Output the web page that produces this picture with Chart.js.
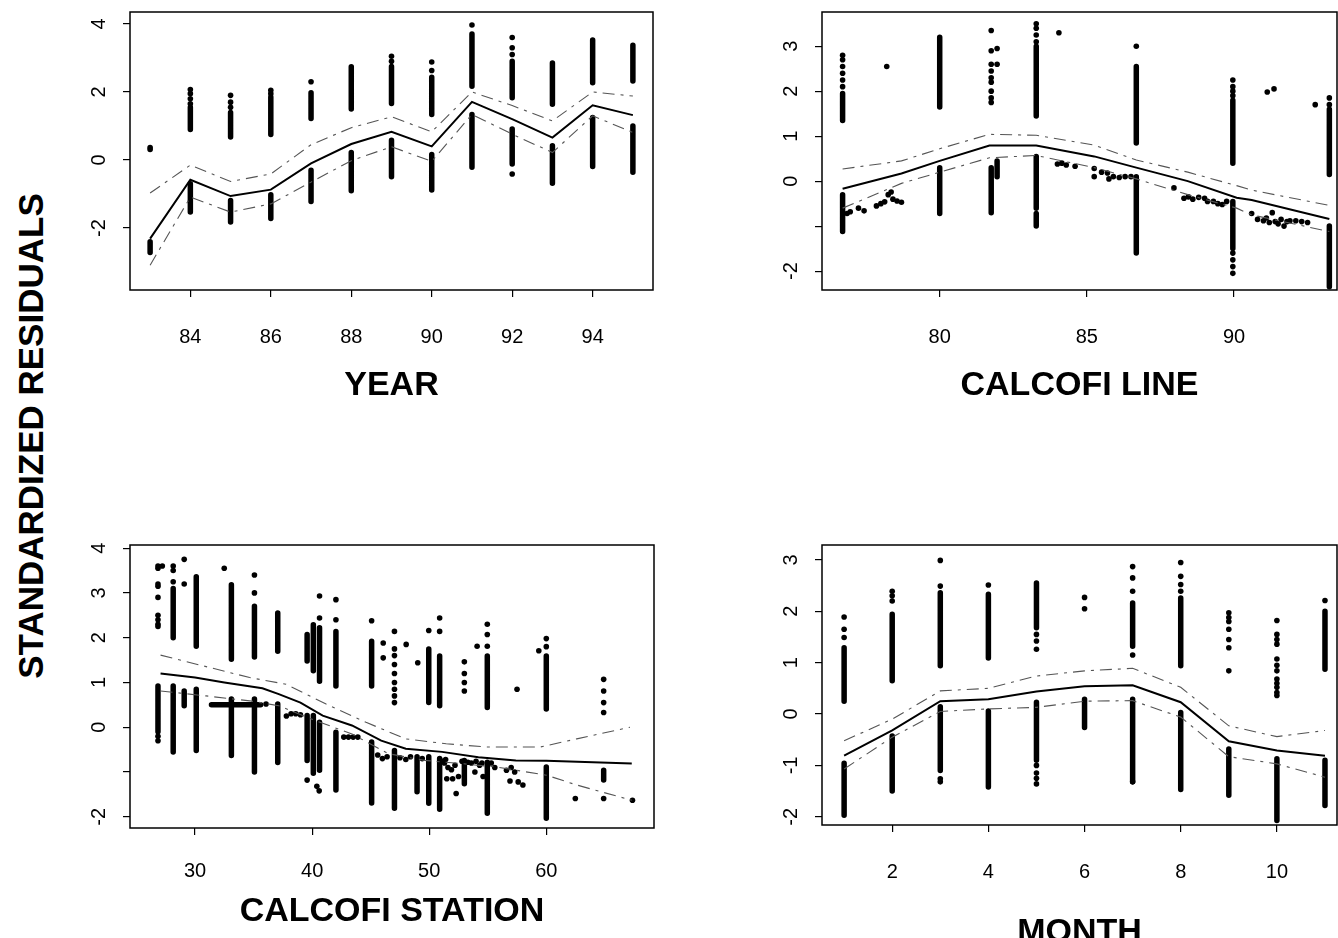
<!DOCTYPE html>
<html>
<head>
<meta charset="utf-8">
<script src="https://cdn.jsdelivr.net/npm/chart.js@4.4.1/dist/chart.umd.min.js"></script>
<style>
html, body { margin: 0; padding: 0; background: #fff; overflow: hidden; width: 1338px; height: 938px; }
canvas { position: absolute; }
#ylab {
    position: absolute; left: 31px; top: 436px;
    transform: translate(-50%, -50%) rotate(-90deg);
    font: bold 35px "Liberation Sans", Arial, sans-serif;
    white-space: nowrap; color: #000;
}
</style>
</head>
<body>
<div id="ylab">STANDARDIZED RESIDUALS</div>
<canvas id="year"></canvas>
<canvas id="line"></canvas>
<canvas id="station"></canvas>
<canvas id="month"></canvas>
<script>
// ---- YEAR panel ----
const yearTicksX = [84, 86, 88, 90, 92, 94];
const yearTicksY = [-2, 0, 2, 4];
const yearLabelsY = ['-2', '0', '2', '4'];
// [x, low, high] dense runs of points
const yearCols = [
    [83, -2.72, -2.4],
    [84, 0.9, 1.55], [84, -1.53, -0.7],
    [85, 0.68, 1.4], [85, -1.82, -1.19],
    [86, 0.75, 1.85], [86, -1.72, -1.02],
    [87, 1.22, 1.98], [87, -1.22, -0.3],
    [88, 1.5, 2.74], [88, -0.9, 0.22],
    [89, 1.66, 2.75], [89, -0.49, 0.58],
    [90, 1.34, 2.43], [90, -0.88, 0.16],
    [91, 2.17, 3.7], [91, -0.21, 1.34],
    [92, 1.83, 2.9], [92, -0.12, 0.91],
    [93, 1.64, 2.85], [93, -0.68, 0.42],
    [94, 2.27, 3.53], [94, -0.19, 1.25],
    [95, 2.32, 3.37], [95, -0.36, 1.0]
];
const yearDots = [
    [83, 0.37], [83, 0.31], [84, 1.65], [84, 1.8], [84, 1.95], [84, 2.07],
    [85, 1.55], [85, 1.7], [85, 1.9], [86, 1.95], [86, 2.05], [87, 2.3],
    [89, 2.9], [89, 3.05], [90, 2.63], [90, 2.88], [91, 3.97],
    [92, 3.1], [92, 3.3], [92, 3.6], [92, -0.41]
];
const yearFit = [[83, -2.31], [84, -0.58], [85, -1.06], [86, -0.87], [87, -0.1], [88, 0.47], [89, 0.83],
    [90, 0.4], [91, 1.71], [92, 1.2], [93, 0.66], [94, 1.61], [95, 1.32]];
const yearUpper = [[83, -0.97], [84, -0.15], [85, -0.63], [86, -0.41], [87, 0.45], [88, 0.95], [89, 1.27],
    [90, 0.83], [91, 2.0], [92, 1.6], [93, 1.15], [94, 2.0], [95, 1.88]];
const yearLower = [[83, -3.09], [84, -1.09], [85, -1.53], [86, -1.29], [87, -0.65], [88, -0.02], [89, 0.39],
    [90, -0.04], [91, 1.34], [92, 0.76], [93, 0.22], [94, 1.3], [95, 0.81]];

// ---- CALCOFI LINE panel ----
const lineTicksX = [80, 85, 90];
const lineTicksY = [-2, -1, 0, 1, 2, 3];
const lineLabelsY = ['-2', '', '0', '1', '2', '3'];
const lineCols = [
    [76.7, 1.35, 1.95], [76.7, -1.12, -0.3],
    [80, 1.65, 3.2], [80, -0.72, 0.3],
    [81.75, -0.7, 0.3], [81.95, 0.1, 0.45],
    [83.28, 1.45, 3.0], [83.28, -0.6, 0.55], [83.28, -1.0, -0.72],
    [86.68, 0.85, 2.55], [86.68, -1.6, 0.1],
    [89.96, 0.4, 1.8], [89.96, -1.5, -0.45],
    [93.24, 0.15, 1.6], [93.24, -2.35, -1.0]
];
const lineDots = [
    [76.7, 2.1], [76.7, 2.25], [76.7, 2.4], [76.7, 2.55], [76.7, 2.7], [76.7, 2.8], [78.2, 2.55],
    [81.75, 1.75], [81.75, 1.85], [81.75, 2.0], [81.75, 2.2], [81.75, 2.3], [81.75, 2.45], [81.75, 2.6],
    [81.75, 2.9], [81.75, 3.35], [81.95, 2.95], [81.95, 2.6],
    [83.28, 3.1], [83.28, 3.25], [83.28, 3.4], [83.28, 3.5], [84.05, 3.3], [86.68, 3.0],
    [89.96, 1.9], [89.96, 2.0], [89.96, 2.1], [89.96, 2.25],
    [89.96, -1.6], [89.96, -1.75], [89.96, -1.9], [89.96, -2.05],
    [91.13, 1.98], [91.36, 2.05], [92.76, 1.7], [93.24, 1.7], [93.24, 1.85],
    [76.85, -0.72], [76.96, -0.68], [77.24, -0.6], [77.43, -0.66], [77.85, -0.55], [78.0, -0.5],
    [78.13, -0.46], [78.25, -0.3], [78.35, -0.24], [78.41, -0.4], [78.55, -0.44], [78.7, -0.47],
    [84.0, 0.38], [84.15, 0.4], [84.3, 0.36], [84.6, 0.33],
    [85.25, 0.28], [85.25, 0.1], [85.5, 0.2], [85.7, 0.18], [85.75, 0.05], [85.9, 0.1], [86.1, 0.08],
    [86.3, 0.1], [86.5, 0.1], [87.96, -0.15],
    [88.3, -0.38], [88.45, -0.35], [88.6, -0.4], [88.8, -0.36], [89.0, -0.38], [89.1, -0.45],
    [89.3, -0.45], [89.45, -0.5], [89.6, -0.52], [89.75, -0.45],
    [90.6, -0.72], [90.8, -0.85], [91.0, -0.88], [91.1, -0.82], [91.2, -0.92], [91.3, -0.7], [91.4, -0.9],
    [91.5, -0.95], [91.6, -0.85], [91.7, -1.0], [91.8, -0.9], [91.9, -0.88], [92.1, -0.88], [92.3, -0.9], [92.5, -0.92]
];
const lineFit = [[76.7, -0.17], [78.7, 0.17], [80, 0.45], [81.69, 0.79], [83.28, 0.79], [85.25, 0.55],
    [86.68, 0.3], [88.43, 0.0], [90.09, -0.37], [90.6, -0.42], [93.24, -0.84]];
const lineUpper = [[76.7, 0.27], [78.7, 0.45], [80, 0.72], [81.69, 1.04], [83.28, 1.02], [85.25, 0.8],
    [86.68, 0.47], [88.43, 0.2], [90.09, -0.1], [90.6, -0.2], [93.24, -0.54]];
const lineLower = [[76.7, -0.6], [78.7, -0.05], [80, 0.2], [81.69, 0.52], [83.28, 0.57], [85.25, 0.3],
    [86.68, 0.05], [88.43, -0.3], [90.09, -0.6], [90.6, -0.75], [93.24, -1.12]];

// ---- CALCOFI STATION panel ----
const stationTicksX = [30, 40, 50, 60];
const stationTicksY = [-2, -1, 0, 1, 2, 3, 4];
const stationLabelsY = ['-2', '', '0', '1', '2', '3', '4'];
const stationCols = [
    [26.83, -0.1, 0.92],
    [28.13, 2.0, 3.1], [28.13, -0.55, 0.92],
    [29.07, 0.48, 0.81],
    [30.1, 1.81, 3.36], [30.1, -0.52, 0.85],
    [33.1, 1.52, 3.18], [33.1, -0.63, 0.63],
    [35.07, 1.57, 2.7], [35.07, -1.0, 0.63],
    [37.06, 1.7, 2.55], [37.06, -0.79, 0.52],
    [39.57, 1.48, 2.07], [39.57, -0.74, 0.26],
    [40.1, 1.26, 2.29], [40.1, -1.03, 0.26],
    [40.63, 1.03, 2.22], [40.63, -0.96, 0.11],
    [42.03, 0.92, 2.14], [42.03, -1.4, -0.11],
    [45.08, 0.92, 1.92], [45.08, -1.69, -0.33],
    [47.03, -1.81, -0.52],
    [48.96, -1.44, -0.66],
    [49.96, 0.55, 1.75], [49.96, -1.7, -0.66],
    [50.89, 0.48, 1.59], [50.89, -1.83, -0.7],
    [53.0, -1.26, -0.74],
    [54.96, 0.44, 1.59], [54.96, -1.92, -0.78],
    [60, 0.41, 1.59], [60, -2.03, -0.89],
    [64.9, -1.18, -0.96]
];
// [x from, x to, y] horizontal runs of points
const stationRuns = [
    [31.4, 35.6, 0.5]
];
const stationDots = [
    [26.83, 3.6], [26.83, 3.55], [26.83, 3.2], [26.83, 3.15], [26.83, 2.9], [26.83, 2.5], [26.83, 2.4],
    [26.83, 2.3], [26.83, 2.25], [26.83, -0.2], [26.83, -0.3], [27.2, 3.6],
    [28.13, 3.25], [28.13, 3.5], [28.13, 3.6], [29.07, 3.75], [29.07, 3.2], [32.49, 3.55],
    [35.07, 3.0], [35.07, 3.4], [36.06, 0.52],
    [37.8, 0.25], [38.2, 0.3], [38.6, 0.3], [39.0, 0.28], [39.57, -1.18], [40.4, -1.32], [40.6, -1.42],
    [40.63, 2.44], [40.63, 2.93], [42.03, 2.4], [42.03, 2.85],
    [42.7, -0.22], [43.1, -0.22], [43.5, -0.22], [43.9, -0.22],
    [45.08, 2.38], [46.07, 1.88], [46.07, 1.55],
    [47.03, 2.14], [47.03, 1.75], [47.03, 1.6], [47.03, 1.4], [47.03, 1.2], [47.03, 1.0], [47.03, 0.85],
    [47.03, 0.7], [47.03, 0.55], [48.03, 1.85], [49.02, 1.44], [49.96, 2.16], [50.89, 2.44], [50.89, 2.14],
    [45.6, -0.62], [46.0, -0.7], [46.4, -0.66], [47.5, -0.68], [48.0, -0.72], [48.4, -0.66], [49.4, -0.7],
    [51.0, -0.75], [51.4, -0.72], [52.8, -0.76], [53.3, -0.78], [54.0, -0.76], [54.5, -0.8],
    [51.3, -0.8], [51.6, -0.9], [51.9, -0.95], [52.2, -0.85], [52.5, -1.1], [51.5, -1.15], [52.0, -1.15], [52.3, -1.48],
    [53.0, 1.46], [53.0, 1.2], [53.0, 1.0], [53.0, 0.81], [54.09, 1.81],
    [54.96, 2.3], [54.96, 2.07], [54.96, 1.81],
    [53.6, -0.8], [53.9, -1.0], [54.3, -0.85], [54.6, -1.1], [55.3, -0.8], [55.6, -0.9],
    [56.6, -0.96], [56.9, -1.2], [57.0, -0.9], [57.3, -1.0], [57.6, -1.22], [58.0, -1.29],
    [57.5, 0.85], [59.36, 1.71], [60, 1.98], [60, 1.8], [62.48, -1.59],
    [64.9, 1.07], [64.9, 0.81], [64.9, 0.55], [64.9, 0.33], [64.9, -1.59], [67.36, -1.63]
];
const stationFit = [[27.05, 1.2], [30, 1.11], [32.5, 1.0], [35.75, 0.87], [37.15, 0.74], [39.0, 0.55],
    [40.9, 0.26], [43.4, 0.04], [45.9, -0.3], [48.0, -0.48], [51.1, -0.55], [54.2, -0.67],
    [57.4, -0.74], [60, -0.75], [67.3, -0.81]];
const stationUpper = [[27.05, 1.61], [34.66, 1.11], [37.77, 0.96], [41.19, 0.52], [44.6, 0.11], [48.0, -0.26],
    [51.45, -0.37], [54.87, -0.44], [59.5, -0.44], [62.6, -0.26], [67.15, 0.0]];
const stationLower = [[27.05, 0.81], [30.93, 0.7], [34.66, 0.59], [37.15, 0.48], [40.26, 0.15], [43.4, -0.15],
    [46.5, -0.59], [49.6, -0.74], [52.7, -0.81], [55.8, -0.89], [60, -1.07], [62.6, -1.29], [67.3, -1.63]];

// ---- MONTH panel ----
const monthTicksX = [2, 4, 6, 8, 10];
const monthTicksY = [-2, -1, 0, 1, 2, 3];
const monthLabelsY = ['-2', '-1', '0', '1', '2', '3'];
const monthCols = [
    [1, 0.25, 1.29], [1, -1.97, -0.96],
    [2, 0.65, 1.94], [2, -1.5, -0.43],
    [3, 0.94, 2.36], [3, -1.1, 0.14],
    [4, 1.09, 2.33], [4, -1.42, 0.06],
    [5, 1.68, 2.55], [5, -0.9, 0.23],
    [6, -0.26, 0.29],
    [7, 1.32, 2.16], [7, -1.32, 0.29],
    [8, 0.94, 2.26], [8, -1.47, 0.03],
    [9, -1.58, -0.68],
    [10, -2.07, -0.87],
    [11, 0.87, 2.0], [11, -1.78, -0.9]
];
const monthDots = [
    [1, 1.89], [1, 1.65], [1, 1.49], [2, 2.39], [2, 2.3], [2, 2.2],
    [3, 2.99], [3, 2.49], [3, -1.26], [3, -1.32], [4, 2.51],
    [5, 1.55], [5, 1.42], [5, 1.26], [5, -1.0], [5, -1.15], [5, -1.25], [5, -1.36],
    [6, 2.27], [6, 2.05], [7, 2.87], [7, 2.65], [7, 2.39], [7, 1.15], [7, -1.32],
    [8, 2.95], [8, 2.68], [8, 2.52], [8, 2.39],
    [9, 1.97], [9, 1.88], [9, 1.8], [9, 1.65], [9, 1.45], [9, 1.29], [9, 0.84],
    [10, 1.82], [10, 1.55], [10, 1.45], [10, 1.36], [10, 1.07], [10, 0.95], [10, 0.84], [10, 0.68],
    [10, 0.6], [10, 0.52], [10, 0.42], [10, 0.36], [11, 2.21]
];
const monthFit = [[1, -0.81], [2, -0.32], [3, 0.25], [4, 0.29], [5, 0.44], [6, 0.54], [7, 0.56],
    [8, 0.23], [9, -0.53], [10, -0.71], [11, -0.81]];
const monthUpper = [[1, -0.52], [2, -0.1], [3, 0.45], [4, 0.5], [5, 0.74], [6, 0.84], [7, 0.89],
    [8, 0.52], [9, -0.23], [10, -0.44], [11, -0.32]];
const monthLower = [[1, -1.07], [2, -0.45], [3, 0.05], [4, 0.1], [5, 0.13], [6, 0.25], [7, 0.26],
    [8, -0.06], [9, -0.83], [10, -0.97], [11, -1.23]];

const FONT = '"Liberation Sans", Arial, Helvetica, sans-serif';

function toPoints(pairs) {
    return pairs.map(p => ({ x: p[0], y: p[1] }));
}

// vertical and horizontal runs become line pieces split by gaps
function toSegments(cols, runs) {
    let pts = [];
    cols.forEach(c => pts.push({ x: c[0], y: c[1] }, { x: c[0], y: c[2] }, { x: c[0], y: null }));
    (runs || []).forEach(r => pts.push({ x: r[0], y: r[2] }, { x: r[1], y: r[2] }, { x: r[1], y: null }));
    return pts;
}

function rotatedLabels(labels) {
    return {
        id: 'rotatedLabels',
        afterDraw(chart) {
            const { ctx, chartArea, scales: { y } } = chart;
            ctx.save();
            ctx.font = '20px ' + FONT;
            ctx.fillStyle = '#000';
            ctx.textAlign = 'center';
            ctx.textBaseline = 'middle';
            y.ticks.forEach((t, i) => {
                if (!labels[i]) return;
                ctx.save();
                ctx.translate(chartArea.left - 31, y.getPixelForValue(t.value));
                ctx.rotate(-Math.PI / 2);
                ctx.fillText(labels[i], 0, 0);
                ctx.restore();
            });
            ctx.strokeStyle = '#000';
            ctx.lineWidth = 1.5;
            ctx.strokeRect(chartArea.left, chartArea.top,
                chartArea.right - chartArea.left, chartArea.bottom - chartArea.top);
            ctx.restore();
        }
    };
}

function drawPanel(id, p) {
    const padL = 70, padT = 8, padR = 8;
    const canvas = document.getElementById(id);
    canvas.width = p.box[2] - p.box[0] + padL + padR;
    canvas.height = p.box[3] - p.box[1] + padT + p.axisH;
    canvas.style.left = (p.box[0] - padL) + 'px';
    canvas.style.top = (p.box[1] - padT) + 'px';

    const band = {
        showLine: true, borderColor: '#555', borderWidth: 1.1, borderDash: [12, 6, 3, 6],
        pointRadius: 0, fill: false
    };

    new Chart(canvas, {
        type: 'scatter',
        data: {
            datasets: [
                { ...band, data: toPoints(p.upper) },
                { ...band, data: toPoints(p.lower) },
                {
                    data: toSegments(p.cols, p.runs), showLine: true, spanGaps: false,
                    borderColor: '#000', borderWidth: 5.5, borderCapStyle: 'round', pointRadius: 0
                },
                { data: toPoints(p.dots), pointRadius: 2.8, backgroundColor: '#000', borderWidth: 0 },
                { data: toPoints(p.fit), showLine: true, borderColor: '#000', borderWidth: 2, pointRadius: 0 }
            ]
        },
        options: {
            responsive: false,
            animation: false,
            events: [],
            layout: { padding: { left: 0, top: padT, right: padR, bottom: 0 } },
            plugins: { legend: { display: false }, tooltip: { enabled: false } },
            scales: {
                x: {
                    type: 'linear', min: p.xr[0], max: p.xr[1],
                    afterBuildTicks: s => { s.ticks = p.ticksX.map(v => ({ value: v })); },
                    afterFit: s => { s.height = p.axisH; },
                    grid: { drawOnChartArea: false, tickLength: 7, color: '#000', lineWidth: 1.2 },
                    border: { display: false },
                    ticks: { color: '#000', font: { size: 20, family: FONT }, padding: p.tickPad, maxRotation: 0, autoSkip: false },
                    title: { display: true, text: p.title, color: '#000', padding: 0,
                        font: { size: 34, weight: 'bold', family: FONT } }
                },
                y: {
                    type: 'linear', min: p.yr[0], max: p.yr[1],
                    afterBuildTicks: s => { s.ticks = p.ticksY.map(v => ({ value: v })); },
                    afterFit: s => { s.width = padL; },
                    grid: { drawOnChartArea: false, tickLength: 7, color: '#000', lineWidth: 1.2 },
                    border: { display: false },
                    ticks: { display: false }
                }
            }
        },
        plugins: [rotatedLabels(p.labelsY)]
    });
}

drawPanel('year', {
    box: [130, 12, 653, 290], xr: [82.5, 95.5], yr: [-3.82, 4.35], axisH: 116, tickPad: 28,
    ticksX: yearTicksX, ticksY: yearTicksY, labelsY: yearLabelsY, title: 'YEAR',
    cols: yearCols, dots: yearDots, fit: yearFit, upper: yearUpper, lower: yearLower
});
drawPanel('line', {
    box: [822, 12, 1337, 290], xr: [76.0, 93.5], yr: [-2.42, 3.76], axisH: 116, tickPad: 28,
    ticksX: lineTicksX, ticksY: lineTicksY, labelsY: lineLabelsY, title: 'CALCOFI LINE',
    cols: lineCols, dots: lineDots, fit: lineFit, upper: lineUpper, lower: lineLower
});
drawPanel('station', {
    box: [130, 545, 654, 828], xr: [24.44, 69.2], yr: [-2.25, 4.07], axisH: 104, tickPad: 24,
    ticksX: stationTicksX, ticksY: stationTicksY, labelsY: stationLabelsY, title: 'CALCOFI STATION',
    cols: stationCols, runs: stationRuns, dots: stationDots, fit: stationFit, upper: stationUpper, lower: stationLower
});
drawPanel('month', {
    box: [822, 545, 1337, 825], xr: [0.54, 11.25], yr: [-2.16, 3.29], axisH: 128, tickPad: 28,
    ticksX: monthTicksX, ticksY: monthTicksY, labelsY: monthLabelsY, title: 'MONTH',
    cols: monthCols, dots: monthDots, fit: monthFit, upper: monthUpper, lower: monthLower
});
</script>
</body>
</html>
